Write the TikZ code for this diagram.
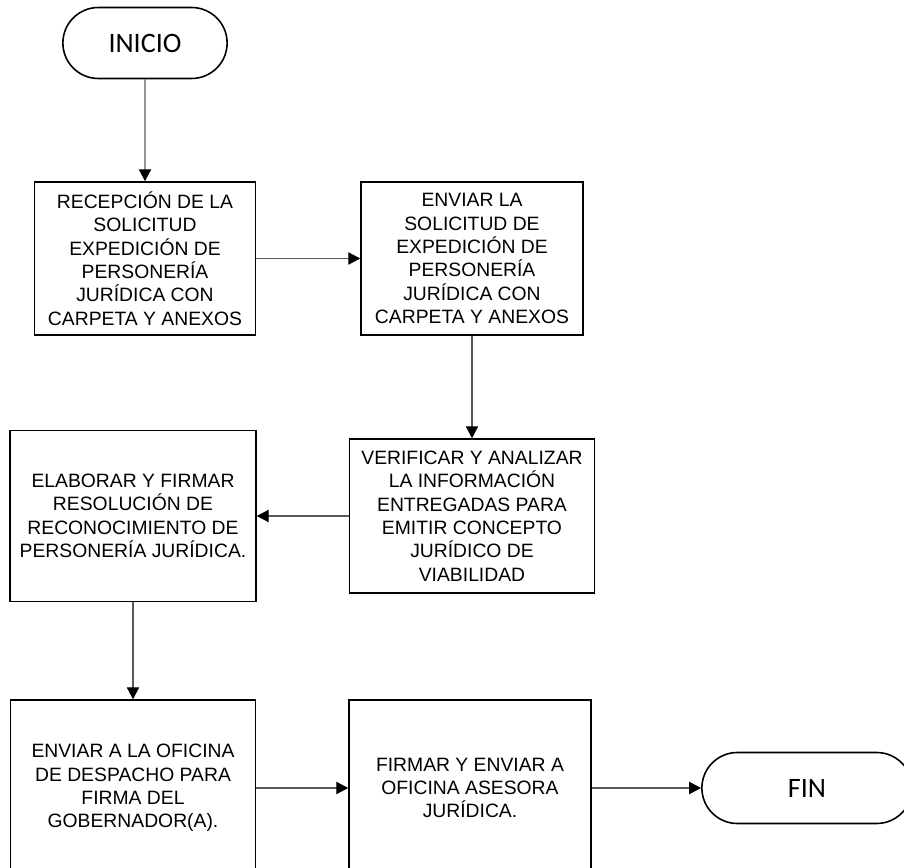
\documentclass[tikz,border=0pt]{standalone}
\usepackage{fontspec}
\setmainfont{Liberation Sans}
\newfontfamily\terminalfont{Carlito}
\usetikzlibrary{arrows.meta,shapes.misc}
\tikzset{
  caja/.style={shape=rectangle, draw=black, line width=0.9pt, align=center, inner sep=2pt, font=\fontsize{11}{13.3}\selectfont},
  terminal/.style={shape=rounded rectangle, draw=black, line width=0.9pt, minimum height=1.42cm, font=\terminalfont\fontsize{16}{18}\selectfont},
  flecha/.style={draw=black!65, line width=0.7pt, -{Triangle[length=6.8pt,width=7pt,color=black]}}
}

\begin{document}
\begin{tikzpicture}[x=0.02cm, y=-0.02cm]
\useasboundingbox (0,0) rectangle (904,868);
\node [terminal, minimum width=3.52cm] (v1) at (145,43) {INICIO};
\node [caja, minimum width=4.42cm, minimum height=3.06cm] (v2) at (145,258.5) {RECEPCIÓN DE LA\\SOLICITUD\\EXPEDICIÓN DE\\PERSONERÍA\\JURÍDICA CON\\CARPETA Y ANEXOS};
\node [caja, minimum width=4.44cm, minimum height=3.06cm] (v3) at (472,258.5) {ENVIAR LA\\SOLICITUD DE\\EXPEDICIÓN DE\\PERSONERÍA\\JURÍDICA CON\\CARPETA Y ANEXOS};
\node [caja, minimum width=4.9cm, minimum height=3.08cm] (v4) at (472,516) {VERIFICAR Y ANALIZAR\\LA INFORMACIÓN\\ENTREGADAS PARA\\EMITIR CONCEPTO\\JURÍDICO DE\\VIABILIDAD};
\node [caja, minimum width=4.92cm, minimum height=3.42cm] (v5) at (133,516) {ELABORAR Y FIRMAR\\RESOLUCIÓN DE\\RECONOCIMIENTO DE\\PERSONERÍA JURÍDICA.};
\node [caja, minimum width=4.9cm, minimum height=3.52cm] (v6) at (133,788) {ENVIAR A LA OFICINA\\DE DESPACHO PARA\\FIRMA DEL\\GOBERNADOR(A).};
\node [caja, minimum width=4.84cm, minimum height=3.52cm] (v7) at (470,788) {FIRMAR Y ENVIAR A\\OFICINA ASESORA\\JURÍDICA.};
\node [terminal, minimum width=4.44cm] (v8) at (807,788) {FIN};
\draw [flecha] (v1) edge (v2);
\draw [flecha] (v2) edge (v3);
\draw [flecha] (v3) edge (v4);
\draw [flecha] (v4) edge (v5);
\draw [flecha] (v5) edge (v6);
\draw [flecha] (v6) edge (v7);
\draw [flecha] (v7) edge (v8);
\end{tikzpicture}
\end{document}
